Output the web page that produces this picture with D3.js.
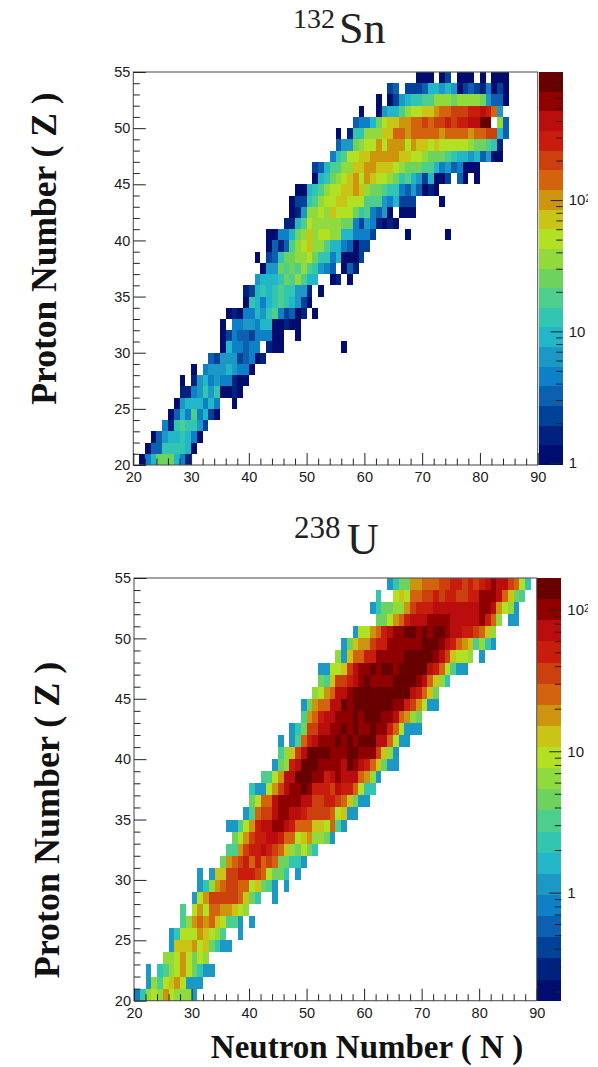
<!DOCTYPE html>
<html><head><meta charset="utf-8">
<script src="https://cdn.jsdelivr.net/npm/d3@7"></script>
<style>html,body{margin:0;padding:0;background:#fff}svg{display:block}</style>
</head><body><svg id="c" width="598" height="1067"></svg>
<script>
const _ = null;
const neutronDomain = [20, 90];
const protonDomain = [20, 55];
const paletteBands = ["#000f6e","#03207f","#06429a","#0a5fb0","#1180c8","#1a98c6","#20b6c8","#30c6b2","#4ece8c","#6ed25e","#90da3e","#b2e024","#cac414","#cc9510","#d4640c","#cc400a","#c81e08","#ba0808","#900404","#680000"];
const sn132CountRange = [0.96, 945];
const u238CountRange = [0.172, 168];
const sn132BandCounts = [1.1,1.6,2.2,3.2,4.5,6.3,9,12.5,18,25,35,50,70,100,140,200,280,390,550,780];
const u238BandCounts = [0.2,0.29,0.41,0.58,0.82,1.15,1.6,2.3,3.3,4.6,6.5,9.2,13,18,26,37,52,73,103,145];
// each row: proton number, first neutron number, then the contour band of each successive neutron bin
const sn132Rows = [
[54,69,0,0,0,_,0,2,_,0,0,0,_,0,_,0,0,0],
[53,64,2,3,_,2,2,2,3,6,6,5,6,5,0,2,3,2,1,4,0,2,0],
[52,62,0,_,0,2,5,6,7,7,8,8,10,10,10,9,10,10,10,10,9,5,3,3,0],
[51,59,0,_,_,0,5,6,6,8,10,11,11,12,12,13,14,14,15,15,15,16,16,17,16,14,5],
[50,58,3,4,4,6,9,11,12,12,13,13,14,14,15,14,15,15,16,15,16,16,17,17,19,19,_,10,3],
[49,55,0,_,1,7,7,10,10,10,12,12,14,14,13,14,14,14,14,14,13,14,14,14,14,13,14,14,15,15,6,3],
[48,55,3,5,5,9,10,11,11,13,11,13,13,13,11,13,12,12,11,12,11,11,11,11,11,10,9,9,8,7,1],
[47,54,4,7,8,11,11,12,12,13,13,13,13,13,12,12,11,11,10,9,9,9,8,7,6,6,5,6,3,5,0,0],
[46,51,2,3,6,8,8,10,10,12,12,13,13,12,12,12,11,10,9,9,9,8,8,6,4,5,3,4,0,0,0],
[45,51,0,6,7,9,10,11,12,13,11,13,12,11,11,10,9,7,8,6,5,2,6,0,0,2,_,3,0,_,0],
[44,48,0,0,6,7,8,10,11,11,12,12,13,12,10,9,9,8,7,7,4,3,5,3,0,1,0],
[43,47,0,2,2,7,8,10,11,11,12,12,11,11,11,8,8,8,5,4,6,2,2,2,_,_,_,_,0],
[42,47,0,1,5,10,10,11,10,12,11,11,11,9,7,8,4,3,5,0,_,0,0,0],
[41,46,1,1,6,8,11,10,10,10,10,10,9,9,4,2,5,4,1,0,1,0],
[40,43,0,0,4,4,6,9,10,12,10,11,11,10,10,6,6,4,4,4,2,_,_,_,_,_,0,_,_,_,_,_,_,0],
[39,43,0,3,1,3,8,10,11,12,10,10,8,6,6,4,3,0,2,2],
[38,41,0,_,2,3,7,9,9,10,10,11,9,7,7,4,6,0,0,0,2],
[37,42,0,5,5,9,8,9,8,10,8,7,5,4,3,_,0,3,1],
[36,41,5,6,6,6,7,9,8,10,8,6,6,_,_,0,1,_,0],
[35,39,1,2,6,7,6,7,8,7,7,5,5,1,_,0],
[34,39,0,7,6,4,6,7,8,7,6,5,2,0],
[33,36,0,1,0,4,4,6,5,7,8,4,2,3,0,1,_,0],
[32,35,0,_,4,4,5,5,4,6,6,0,0,1,0,0],
[31,35,0,2,4,3,3,2,4,4,4,0,0,_,_,0],
[30,35,0,6,4,4,3,4,4,_,1,0,0,_,_,_,_,_,_,_,_,_,_,0],
[29,33,3,2,5,5,5,2,3,4,0,1],
[28,30,0,_,4,5,5,5,6,5,4,4,0],
[27,28,0,_,1,5,6,4,5,4,4,1,0,0],
[26,28,1,1,4,5,7,5,7,0,0,1,0],
[25,27,0,5,6,6,6,4,6,4,_,_,0],
[24,26,0,3,6,4,8,4,6,2,0],
[23,25,4,1,7,8,7,7,5,2],
[22,23,0,3,5,6,6,7,6,4,0],
[21,22,0,3,3,7,7,7,7,6,0],
[20,21,0,4,6,9,9,9,6,4,1]
];
const u238Rows = [
[54,64,5,7,9,9,13,13,14,14,14,15,15,16,16,15,16,15,16,17,18,17,17,15,14,11,7],
[53,62,7,_,_,11,12,11,14,14,15,15,16,15,16,16,15,15,16,16,18,18,18,17,14,12,9,8],
[52,61,5,7,9,9,10,10,13,15,16,16,16,17,17,17,17,17,17,17,17,18,18,17,13,11,10,5],
[51,62,9,9,11,13,14,16,17,17,17,18,18,18,18,17,17,17,17,17,18,16,14,10,_,5,5],
[50,58,5,11,11,13,14,16,17,18,18,19,19,18,19,18,19,19,18,17,17,16,16,15,14,12,10],
[49,56,5,9,12,13,13,15,16,16,18,18,18,18,18,18,19,19,19,18,17,16,14,13,12,8,10,7,5],
[48,55,10,5,12,14,14,16,16,18,18,18,18,18,19,19,19,19,19,18,17,15,12,11,11,10,_,5],
[47,52,5,5,11,11,12,15,17,18,18,19,18,19,19,18,19,19,19,19,19,17,16,14,11,8,5,5],
[46,52,9,8,12,15,15,16,17,18,19,18,18,18,18,19,19,19,19,18,17,14,12,10,7],
[45,51,10,11,13,14,17,17,18,19,19,19,19,19,19,19,19,19,19,17,16,14,12,9],
[44,49,5,9,13,14,14,17,17,19,18,19,19,19,19,19,19,19,18,18,16,15,13,11,5,5],
[43,49,8,13,14,16,17,17,18,18,18,19,18,19,19,19,18,18,17,14,13,10,9],
[42,47,5,7,9,15,15,17,17,18,18,19,18,19,18,18,19,18,18,16,14,11,5,5,5],
[41,45,5,_,5,8,14,16,17,18,18,18,19,18,19,18,19,19,19,17,17,14,11,5,5],
[40,45,8,10,12,15,17,19,19,19,19,18,18,18,19,19,18,18,18,15,12,10,5],
[39,44,5,9,10,16,17,19,19,19,18,18,18,18,17,19,18,17,16,14,12,9,5,5],
[38,42,8,8,11,13,17,17,19,19,19,18,18,16,17,18,17,17,17,14,13,10,5],
[37,40,7,5,5,11,13,15,17,18,18,19,18,16,16,16,15,17,16,16,14,11,7,7],
[36,40,9,11,14,14,17,18,18,18,18,17,17,15,15,16,16,15,14,12,9,5,5],
[35,39,5,8,14,15,15,17,18,18,17,17,16,15,15,15,15,14,11,12,5,5],
[34,36,5,5,8,11,13,16,17,17,18,18,17,16,14,14,14,12,12,11,14,8,5],
[33,37,9,11,13,15,16,16,17,17,16,14,14,11,12,13,10,10,9,5],
[32,36,8,8,13,15,16,16,17,16,15,14,12,10,9,11,9,7],
[31,35,9,13,14,15,16,14,16,14,15,14,9,9,7,7,5],
[30,31,5,_,5,12,12,15,15,16,16,16,15,14,11,9,9,7,_,5],
[29,31,5,7,10,13,14,15,15,14,14,11,12,9,8,5,_,5],
[28,30,5,11,13,15,15,15,15,15,14,12,9,7,_,_,5],
[27,28,8,_,11,13,11,14,14,13,13,12,11,10],
[26,28,8,10,13,14,13,14,12,11,8,8,5,_,5],
[25,26,5,7,11,11,11,13,12,11,10,8,_,_,5],
[24,26,5,12,12,12,13,11,12,9,7,5,5],
[23,25,10,10,11,13,11,9,11,10],
[22,22,5,_,7,8,10,11,13,11,9,7,5,5],
[21,22,5,10,8,11,12,13,11,5,5,5],
[20,20,4,7,10,11,10,13,11,10,10,10,5]
];
const yMajorTicks = [20,25,30,35,40,45,50,55];
const xMajorTicks = [20,30,40,50,60,70,80,90];
const countTicksSn = [1,10,100];
const countTicksU = [1,10,100];
const yAxisTitle = "Proton Number ( Z )";
const xAxisTitle = "Neutron Number ( N )";
const svg = d3.select("#c");
const defs = svg.append("defs");
defs.append("filter").attr("id","soft").attr("filterUnits","userSpaceOnUse")
  .attr("x",0).attr("y",0).attr("width",598).attr("height",1067)
  .append("feGaussianBlur").attr("stdDeviation",0.4);
const axisFont = "'Liberation Sans', Arial, sans-serif";
const titleFont = "'Liberation Serif', 'Times New Roman', serif";

function panel(cfg){
  const x = d3.scaleLinear().domain(neutronDomain).range([cfg.left,cfg.right]);
  const y = d3.scaleLinear().domain(protonDomain).range([cfg.bottom,cfg.top]);
  const color = d3.scaleQuantize().domain(cfg.countRange.map(Math.log10)).range(paletteBands);
  const cells = [];
  cfg.rows.forEach(r=>{
    r.slice(2).forEach((b,i)=>{ if(b!==null) cells.push({z:r[0],n:r[1]+i,count:cfg.bandCounts[b]}); });
  });
  const g = svg.append("g");
  const cg = g.append("g").attr("filter","url(#soft)").attr("shape-rendering","crispEdges");
  cg.selectAll("rect.cell").data(cells).join("rect").attr("class","cell")
    .attr("x",d=>x(d.n)).attr("y",d=>y(d.z+1))
    .attr("width",d=>x(d.n+1)-x(d.n)).attr("height",d=>y(d.z)-y(d.z+1))
    .attr("fill",d=>color(Math.log10(d.count)));

  // colour bar
  const bar = d3.scaleLog().domain(cfg.countRange).range([cfg.bottom,cfg.top]);
  const logs = cfg.countRange.map(Math.log10);
  const step = (logs[1]-logs[0])/paletteBands.length;
  cg.selectAll("rect.band").data(paletteBands).join("rect").attr("class","band")
    .attr("x",cfg.barLeft).attr("width",cfg.barRight-cfg.barLeft)
    .attr("y",(d,i)=>bar(Math.pow(10,logs[0]+step*(i+1))))
    .attr("height",(d,i)=>bar(Math.pow(10,logs[0]+step*i))-bar(Math.pow(10,logs[0]+step*(i+1))))
    .attr("fill",d=>d);

  // frame
  g.append("rect").attr("x",cfg.left).attr("y",cfg.top).attr("width",cfg.right-cfg.left).attr("height",cfg.bottom-cfg.top)
    .attr("fill","none").attr("stroke","#555").attr("stroke-width",1.1);

  const style = (a,fs)=>{
    a.selectAll("path").attr("stroke","none");
    a.selectAll("line").attr("stroke","#222").attr("stroke-width",1);
    a.selectAll("text").attr("font-family",axisFont).attr("font-size",fs||14.5).attr("fill","#1a1a1a");
  };
  // left axis
  const yMinor = d3.range(protonDomain[0],protonDomain[1]+1).filter(v=>v%5);
  style(g.append("g").attr("transform",`translate(${cfg.left},0)`).call(d3.axisLeft(y).tickValues(yMinor).tickSize(-6.5).tickFormat("")));
  style(g.append("g").attr("transform",`translate(${cfg.left},0)`).call(d3.axisLeft(y).tickValues(yMajorTicks).tickSize(-12.5).tickPadding(3).tickFormat(d3.format("d"))));
  // bottom axis
  const xMinor = d3.range(neutronDomain[0],neutronDomain[1]+1,2).filter(v=>v%10);
  style(g.append("g").attr("transform",`translate(0,${cfg.bottom})`).call(d3.axisBottom(x).tickValues(xMinor).tickSize(-6.5).tickFormat("")));
  style(g.append("g").attr("transform",`translate(0,${cfg.bottom})`).call(d3.axisBottom(x).tickValues(xMajorTicks).tickSize(-12).tickPadding(cfg.xPad).tickFormat(d3.format("d"))));
  // colour-bar axis
  const clipId = "clip"+cfg.id;
  defs.append("clipPath").attr("id",clipId).append("rect").attr("x",0).attr("y",0).attr("width",cfg.clipX).attr("height",1067);
  const minorCounts = bar.ticks(30).filter(v=>v>=cfg.countRange[0]&&v<=cfg.countRange[1]&&!cfg.countTicks.includes(v));
  style(g.append("g").attr("transform",`translate(${cfg.barRight},0)`).call(d3.axisRight(bar).tickValues(minorCounts).tickSize(-6.5).tickFormat("")));
  const ba = g.append("g").attr("clip-path",`url(#${clipId})`)
    .append("g").attr("transform",`translate(${cfg.barRight},0)`)
    .call(d3.axisRight(bar).tickValues(cfg.countTicks).tickSize(-12).tickPadding(cfg.barPad).tickFormat(v=>v>=100?"":String(v)));
  style(ba,15);
  ba.selectAll("text").filter(v=>v>=100).each(function(){
    const t=d3.select(this);
    t.append("tspan").text("10");
    t.append("tspan").attr("dy","-0.35em").attr("font-size",10).text("2");
  });

  // titles
  const tt = g.append("text").attr("font-family",titleFont).attr("fill","#222");
  tt.append("tspan").attr("x",cfg.massX).attr("y",cfg.massY).attr("font-size",cfg.massSize).text(cfg.titleMass);
  tt.append("tspan").attr("x",cfg.symX).attr("y",cfg.symY).attr("font-size",44).text(cfg.titleSym);
  svg.append("text").attr("transform",`translate(${cfg.yTitleX},${cfg.yTitleY}) rotate(-90)`).attr("text-anchor","middle")
    .attr("font-family",titleFont).attr("font-weight","bold").attr("font-size",cfg.yTitleSize).attr("fill","#111").text(yAxisTitle);
}
panel({id:"a",rows:sn132Rows,bandCounts:sn132BandCounts,countRange:sn132CountRange,countTicks:countTicksSn,
  left:133.3,right:537.7,top:72,bottom:465,barLeft:539,barRight:562.7,xPad:7,barPad:6,clipX:588,
  massX:293,massY:28,massSize:28,symX:339,symY:43,titleMass:"132",titleSym:"Sn",yTitleX:56,yTitleY:248.5,yTitleSize:35.5});
panel({id:"b",rows:u238Rows,bandCounts:u238BandCounts,countRange:u238CountRange,countTicks:countTicksU,
  left:134,right:536.7,top:578,bottom:1000.7,barLeft:537.3,barRight:561.3,xPad:7,barPad:6,clipX:588,
  massX:294,massY:538,massSize:31,symX:347,symY:554,titleMass:"238",titleSym:"U",yTitleX:59,yTitleY:820,yTitleSize:36});
svg.append("text").attr("x",367).attr("y",1058).attr("text-anchor","middle")
  .attr("font-family",titleFont).attr("font-weight","bold").attr("font-size",33).attr("fill","#111").text(xAxisTitle);
</script></body></html>
